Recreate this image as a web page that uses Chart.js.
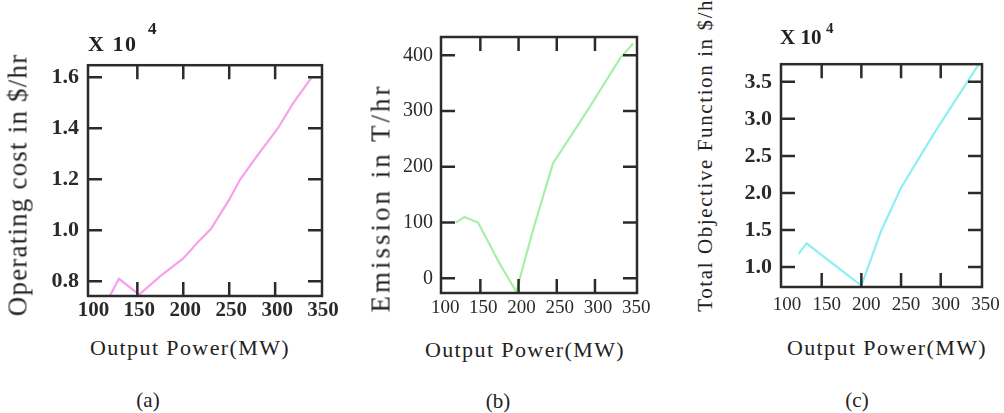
<!DOCTYPE html>
<html><head><meta charset="utf-8">
<script src="https://cdn.jsdelivr.net/npm/chart.js@4.4.0/dist/chart.umd.min.js"></script>
<style>
html,body{margin:0;padding:0;background:#fff;overflow:hidden;width:1004px;height:413px;}
#wrap{position:relative;width:1004px;height:413px;overflow:hidden;}
canvas{position:absolute;}
.t{position:absolute;font-family:"Liberation Serif";color:#222;white-space:nowrap;transform:translate(-50%,-50%);line-height:1;}
.r{transform:translate(-50%,-50%) rotate(-90deg);}
.m{position:absolute;font-family:"Liberation Serif";color:#222;white-space:nowrap;font-weight:bold;line-height:1;transform:translateY(-50%);}
</style></head><body><div id="wrap">
<canvas id="ca"></canvas>
<canvas id="cb"></canvas>
<canvas id="cc"></canvas>
<div class="t r" style="left:17.5px;top:185px;font-size:27px;letter-spacing:1.2px;">Operating cost in $/hr</div>
<div class="t r" style="left:381px;top:197.5px;font-size:27px;letter-spacing:3px;">Emission in T/hr</div>
<div class="t r" style="left:705px;top:150.5px;font-size:21px;letter-spacing:1.6px;">Total Objective Function in $/hr</div>
<div class="t" style="left:190px;top:347.5px;font-size:22px;letter-spacing:1.4px;">Output Power(MW)</div>
<div class="t" style="left:525px;top:350px;font-size:22px;letter-spacing:1.4px;">Output Power(MW)</div>
<div class="t" style="left:887px;top:347.5px;font-size:22px;letter-spacing:1.4px;">Output Power(MW)</div>
<div class="t" style="left:148px;top:400px;font-size:21px;">(a)</div>
<div class="t" style="left:498px;top:401px;font-size:21px;">(b)</div>
<div class="t" style="left:857px;top:400px;font-size:21px;">(c)</div>
<div class="m" style="left:88px;top:44px;font-size:22px;letter-spacing:1.5px;">X 10</div>
<div class="m" style="left:148px;top:28px;font-size:17px;">4</div>
<div class="m" style="left:780px;top:36.5px;font-size:21px;">X 10</div>
<div class="m" style="left:826px;top:27.5px;font-size:15px;">4</div>
</div>
<script>
// ---- data ----
const xTicks = [100, 150, 200, 250, 300, 350];

const costPower = [120, 130, 152, 175, 200, 215, 230, 250, 262, 280, 303, 320, 340];
const costValue = [0.742, 0.81, 0.748, 0.82, 0.89, 0.95, 1.005, 1.12, 1.2, 1.29, 1.4, 1.5, 1.6];
const costTicks = [0.8, 1.0, 1.2, 1.4, 1.6];

const emisPower = [118, 129, 147, 175, 197, 219, 245, 293, 333, 350];
const emisValue = [100, 110, 100, 27, -24, 87, 206, 307, 395, 421];
const emisTicks = [0, 100, 200, 300, 400];

const totPower = [121, 131, 166, 200, 225, 250, 292, 348];
const totValue = [1.18, 1.32, 1.03, 0.75, 1.49, 2.07, 2.81, 3.74];
const totTicks = [1.0, 1.5, 2.0, 2.5, 3.0, 3.5];

const FONT = '"Liberation Serif"';

const framePlugin = {
  id: 'frame',
  afterDatasetsDraw(chart) {
    const {ctx, chartArea: a, scales: {x, y}} = chart;
    const L = 14;
    ctx.save();
    ctx.strokeStyle = '#2b2b2b';
    ctx.lineWidth = 2.5;
    ctx.strokeRect(a.left, a.top, a.right - a.left, a.bottom - a.top);
    ctx.beginPath();
    x.ticks.forEach(t => {
      const p = x.getPixelForValue(t.value);
      if (p < a.left + 6 || p > a.right - 6) return;
      ctx.moveTo(p, a.bottom); ctx.lineTo(p, a.bottom - L);
      ctx.moveTo(p, a.top); ctx.lineTo(p, a.top + L);
    });
    y.ticks.forEach(t => {
      const p = y.getPixelForValue(t.value);
      if (p < a.top + 4 || p > a.bottom - 4) return;
      ctx.moveTo(a.left, p); ctx.lineTo(a.left + L, p);
      ctx.moveTo(a.right, p); ctx.lineTo(a.right - L, p);
    });
    ctx.stroke();
    ctx.restore();
  }
};

function makeChart(id, c) {
  const cv = document.getElementById(id);
  const W = (c.box[1] - c.box[0]) + c.yW + c.rightPad;
  const H = (c.box[3] - c.box[2]) + c.topPad + c.xH;
  cv.width = W; cv.height = H;
  cv.style.width = W + 'px'; cv.style.height = H + 'px';
  cv.style.left = (c.box[0] - c.yW) + 'px';
  cv.style.top = (c.box[2] - c.topPad) + 'px';
  const pts = c.xs.map((v, i) => ({x: v, y: c.ys[i]}));
  return new Chart(cv, {
    type: 'line',
    data: { datasets: [{ data: pts, borderColor: c.color, borderWidth: 2.2, pointRadius: 0, tension: 0, fill: false }] },
    options: {
      responsive: false, animation: false, events: [],
      layout: { padding: { top: c.topPad, right: c.rightPad, left: 0, bottom: 0 } },
      plugins: { legend: { display: false }, tooltip: { enabled: false } },
      scales: {
        x: {
          type: 'linear', min: c.xr[0], max: c.xr[1],
          grid: { display: false, drawTicks: false, tickLength: 0 },
          border: { display: false },
          afterBuildTicks: s => { s.ticks = xTicks.map(v => ({value: v})); },
          afterFit: s => { s.height = c.xH; },
          ticks: { autoSkip: false, maxRotation: 0, padding: c.xPad, labelOffset: c.labelOffset,
                   color: '#2a2a2a', font: { family: FONT, size: c.xFont, weight: c.xWeight },
                   callback: v => String(v) }
        },
        y: {
          type: 'linear', min: c.yr[0], max: c.yr[1],
          grid: { display: false, drawTicks: false, tickLength: 0 },
          border: { display: false },
          afterBuildTicks: s => { s.ticks = c.yTicks.map(v => ({value: v})); },
          afterFit: s => { s.width = c.yW; },
          ticks: { autoSkip: false, padding: c.yPad, color: '#2a2a2a',
                   font: { family: FONT, size: c.yFont, weight: c.yWeight },
                   callback: v => v.toFixed(c.dec) }
        }
      }
    },
    plugins: [framePlugin]
  });
}

makeChart('ca', {
  box: [88, 322, 63, 296], yW: 60, topPad: 20, rightPad: 25, xH: 34,
  xs: costPower, ys: costValue, yTicks: costTicks, dec: 1,
  xr: [96.3, 351], yr: [0.7425, 1.647], color: '#f7a0ee',
  xFont: 21, xWeight: 'bold', yFont: 22, yWeight: 'bold', xPad: 2, yPad: 9, labelOffset: 2
});
makeChart('cb', {
  box: [441, 637, 37, 293], yW: 55, topPad: 20, rightPad: 25, xH: 34,
  xs: emisPower, ys: emisValue, yTicks: emisTicks, dec: 0,
  xr: [98.5, 355], yr: [-26.3, 432.8], color: '#a6f0a6',
  xFont: 19, xWeight: 'normal', yFont: 20, yWeight: 'normal', xPad: 4, yPad: 8, labelOffset: 3
});
makeChart('cc', {
  box: [781, 982, 62, 287], yW: 55, topPad: 20, rightPad: 25, xH: 34,
  xs: totPower, ys: totValue, yTicks: totTicks, dec: 1,
  xr: [98.75, 352], yr: [0.73, 3.738], color: '#8cf0f0',
  xFont: 19, xWeight: 'normal', yFont: 22, yWeight: 'bold', xPad: 7, yPad: 9, labelOffset: 5
});
</script>
</body></html>
